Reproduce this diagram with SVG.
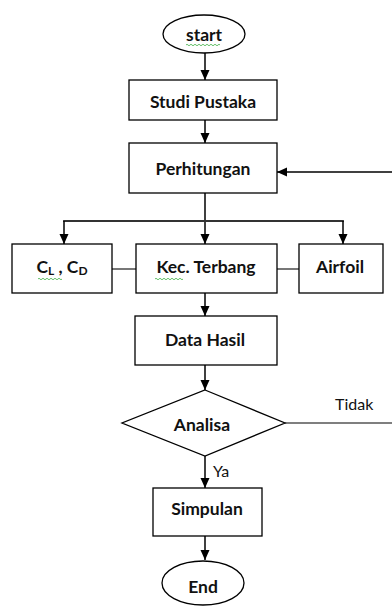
<svg xmlns="http://www.w3.org/2000/svg" width="392" height="608" viewBox="0 0 392 608">
<defs>
<marker id="arr" markerUnits="userSpaceOnUse" markerWidth="10" markerHeight="10" refX="10" refY="5" orient="auto">
<path d="M0,0.5 L10,5 L0,9.5 z" fill="#000"/>
</marker>
<style>
.box{fill:#fff;stroke:#000;stroke-width:1.3}
.lbl{font-family:Lato,"Open Sans","Liberation Sans",sans-serif;font-weight:bold;font-size:17.5px;fill:#111;text-anchor:middle}
.reg{font-family:Lato,"Open Sans","Liberation Sans",sans-serif;font-size:16px;fill:#111}
.ln{fill:none;stroke:#000;stroke-width:1.5}
.gl{fill:none;stroke:#777;stroke-width:2}
.wavy{fill:none;stroke:#3cb043;stroke-width:0.8}
</style>
</defs>
<rect width="392" height="608" fill="#fff"/>
<g id="connectors">
<line class="ln" x1="205" y1="53" x2="205" y2="80" marker-end="url(#arr)"/>
<line class="ln" x1="205" y1="120" x2="205" y2="143" marker-end="url(#arr)"/>
<line class="ln" x1="205" y1="193" x2="205" y2="244" marker-end="url(#arr)"/>
<polyline class="ln" points="64,222 64,221 343,221 343,222" style="stroke:#333;stroke-width:1.8"/>
<line class="ln" x1="64" y1="221" x2="64" y2="244" marker-end="url(#arr)"/>
<line class="ln" x1="343" y1="221" x2="343" y2="244" marker-end="url(#arr)"/>
<line class="gl" x1="110" y1="269" x2="136" y2="269"/>
<line class="gl" x1="277" y1="269" x2="303" y2="269"/>
<line class="ln" x1="205" y1="293" x2="205" y2="316" marker-end="url(#arr)"/>
<line class="ln" x1="205" y1="365" x2="205" y2="390" marker-end="url(#arr)"/>
<line class="ln" x1="205" y1="456" x2="205" y2="488" marker-end="url(#arr)"/>
<line class="ln" x1="205" y1="536" x2="205" y2="560" marker-end="url(#arr)"/>
<line class="ln" x1="285" y1="423" x2="392" y2="423" style="stroke-width:1.2"/>
<line class="ln" x1="392" y1="172" x2="277" y2="172" marker-end="url(#arr)"/>
<text class="reg" x="335" y="410">Tidak</text>
<text class="reg" x="213" y="477">Ya</text>
</g>
<g id="start">
<ellipse class="box" cx="204" cy="34" rx="41" ry="19"/>
<text class="lbl" x="204" y="41">start</text>
<path class="wavy" d="M186,45 q1,-1.5 2,0 t2,0 t2,0 t2,0 t2,0 t2,0 t2,0 t2,0 t2,0 t2,0 t2,0 t2,0 t2,0 t2,0 t2,0 t2,0 t2,0"/>
</g>
<g id="studi">
<rect class="box" x="129" y="80" width="148" height="40"/>
<text class="lbl" x="203" y="108">Studi Pustaka</text>
</g>
<g id="perhitungan">
<rect class="box" x="129" y="143" width="148" height="50"/>
<text class="lbl" x="203" y="175">Perhitungan</text>
</g>
<g id="clcd">
<rect class="box" x="12" y="244" width="100" height="49"/>
<text class="lbl" x="62" y="273">C<tspan font-size="12" dy="2">L</tspan><tspan dy="-2"> , C</tspan><tspan font-size="12" dy="2">D</tspan></text>
<path class="wavy" d="M38,279 q1,-1.5 2,0 t2,0 t2,0 t2,0 t2,0 t2,0 t2,0 t2,0 t2,0 t2,0 t2,0 t2,0"/>
</g>
<g id="kec">
<rect class="box" x="136" y="244" width="141" height="49"/>
<text class="lbl" x="206" y="273">Kec. Terbang</text>
<path class="wavy" d="M155,279 q1,-1.5 2,0 t2,0 t2,0 t2,0 t2,0 t2,0 t2,0 t2,0 t2,0 t2,0 t2,0 t2,0 t2,0 t2,0"/>
</g>
<g id="airfoil">
<rect class="box" x="299" y="244" width="84" height="49"/>
<text class="lbl" x="340" y="273">Airfoil</text>
</g>
<g id="data">
<rect class="box" x="135" y="316" width="142" height="49"/>
<text class="lbl" x="205" y="346">Data Hasil</text>
</g>
<g id="analisa">
<polygon class="box" points="205,390 285,423 205,456 122,423"/>
<text class="lbl" x="202" y="431">Analisa</text>
</g>
<g id="simpulan">
<rect class="box" x="153" y="488" width="109" height="48"/>
<text class="lbl" x="207" y="515">Simpulan</text>
</g>
<g id="end">
<ellipse class="box" cx="203" cy="583" rx="41" ry="22"/>
<text class="lbl" x="203" y="593">End</text>
</g>
</svg>
